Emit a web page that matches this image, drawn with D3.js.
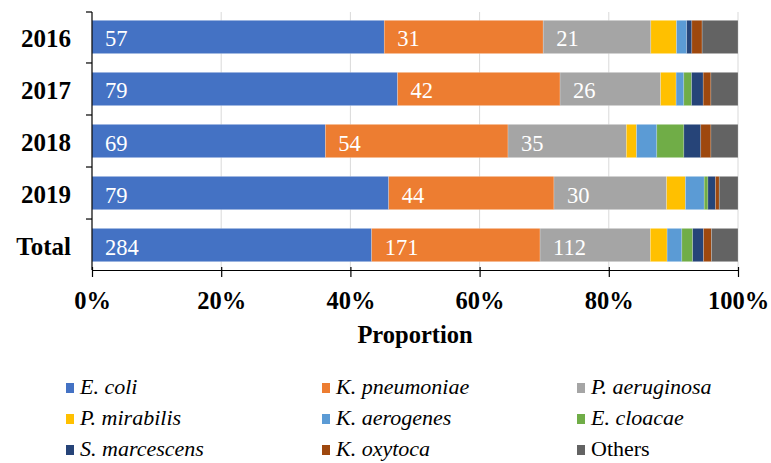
<!DOCTYPE html>
<html><head><meta charset="utf-8">
<script src="https://cdn.jsdelivr.net/npm/d3@7"></script>
<style>body{margin:0;background:#fff}svg{display:block}</style>
</head><body>
<svg id="c" width="771" height="463"></svg>
<script>
const categories = ["2016", "2017", "2018", "2019", "Total"];
const seriesNames = ["E. coli", "K. pneumoniae", "P. aeruginosa", "P. mirabilis", "K. aerogenes", "E. cloacae", "S. marcescens", "K. oxytoca", "Others"];
const italicSeries = [true, true, true, true, true, true, true, true, false];
const colors = ["#4472C4", "#ED7D31", "#A5A5A5", "#FFC000", "#5B9BD5", "#70AD47", "#264478", "#9E480E", "#636363"];
const eColi        = [57, 79, 69, 79, 284];
const kPneumoniae  = [31, 42, 54, 44, 171];
const pAeruginosa  = [21, 26, 35, 30, 112];
const pMirabilis   = [5, 4, 3, 5, 17];
const kAerogenes   = [2, 2, 6, 5, 15];
const eCloacae     = [0, 2, 8, 1, 11];
const sMarcescens  = [1, 3, 5, 2, 11];
const kOxytoca     = [2, 2, 3, 1, 8];
const others       = [7, 7, 8, 5, 27];
const labelledSeries = 3;
const xTicks = [0, 0.2, 0.4, 0.6, 0.8, 1];
const xTitle = "Proportion";

const seriesValues = [eColi, kPneumoniae, pAeruginosa, pMirabilis, kAerogenes, eCloacae, sMarcescens, kOxytoca, others];
const rows = categories.map((c, i) => {
  const r = {cat: c};
  seriesNames.forEach((s, j) => r[s] = seriesValues[j][i]);
  return r;
});
const stack = d3.stack().keys(seriesNames).offset(d3.stackOffsetExpand);
const layers = stack(rows);

const svg = d3.select("#c");
const x = d3.scaleLinear().domain([0, 1]).range([92, 738]);
const y = d3.scaleBand().domain(categories).range([12, 270]).paddingInner(0.36).paddingOuter(0.16);
const serif = "'Liberation Serif','Times New Roman',serif";

// gridlines
svg.append("g").selectAll("line").data(xTicks.slice(1)).join("line")
  .attr("x1", d => x(d)).attr("x2", d => x(d))
  .attr("y1", 12).attr("y2", 270)
  .attr("stroke", "#d9d9d9").attr("stroke-width", 1);

// bars
const g = svg.append("g");
layers.forEach((layer, j) => {
  g.append("g").attr("fill", colors[j]).selectAll("rect").data(layer).join("rect")
    .attr("x", d => x(d[0])).attr("width", d => Math.max(0, x(d[1]) - x(d[0])))
    .attr("y", d => y(d.data.cat)).attr("height", y.bandwidth())
    .attr("stroke", "#ffffff").attr("stroke-opacity", 0.35).attr("stroke-width", 0.6);
});
// labels
layers.slice(0, labelledSeries).forEach((layer, j) => {
  g.append("g").selectAll("text").data(layer).join("text")
    .attr("x", d => x(d[0]) + 13)
    .attr("y", d => y(d.data.cat) + y.bandwidth() / 2 + 9.5)
    .attr("fill", "#fff").attr("font-family", serif).attr("font-size", 22.5)
    .text(d => d.data[seriesNames[j]]);
});

// x axis
const xAxis = d3.axisBottom(x).tickValues(xTicks).tickFormat(d3.format(".0%")).tickSize(7).tickSizeOuter(0);
const xg = svg.append("g").attr("transform", "translate(0,270)").call(xAxis);
xg.select(".domain").attr("stroke", "#000").attr("stroke-width", 1.2);
xg.selectAll(".tick line").attr("stroke", "#000").attr("stroke-width", 1.2).attr("y1", -3);
xg.selectAll(".tick text").attr("font-family", serif).attr("font-weight", "bold")
  .attr("font-size", 24.5).attr("fill", "#000").attr("dy", "0").attr("y", 39);

// y axis
const yg = svg.append("g").attr("transform", "translate(92,0)");
yg.append("line").attr("x1", 0).attr("x2", 0).attr("y1", 12).attr("y2", 270).attr("stroke", "#000").attr("stroke-width", 1.2);
const bounds = categories.map((c, i) => i === 0 ? y.range()[0] : (y(categories[i - 1]) + y.bandwidth() + y(c)) / 2);
yg.selectAll("line.tk").data(bounds).join("line").attr("class", "tk")
  .attr("x1", -6).attr("x2", 0).attr("y1", d => d).attr("y2", d => d)
  .attr("stroke", "#000").attr("stroke-width", 1.2);
yg.selectAll("text").data(categories).join("text")
  .attr("x", -21).attr("y", d => y(d) + y.bandwidth() / 2 + 10)
  .attr("text-anchor", "end").attr("font-family", serif).attr("font-weight", "bold")
  .attr("font-size", 25).attr("fill", "#000").text(d => d);

// x title
svg.append("text").attr("x", x(0.5)).attr("y", 343).attr("text-anchor", "middle")
  .attr("font-family", serif).attr("font-weight", "bold").attr("font-size", 24.5).text(xTitle);

// legend
const colX = [66, 322, 577];
const rowY = [394, 425, 456];
const lg = svg.append("g");
seriesNames.forEach((s, i) => {
  const cx = colX[i % 3], cy = rowY[Math.floor(i / 3)];
  lg.append("rect").attr("x", cx).attr("y", cy - 11).attr("width", 8).attr("height", 10).attr("fill", colors[i]);
  lg.append("text").attr("x", cx + 14).attr("y", cy)
    .attr("font-family", serif).attr("font-style", italicSeries[i] ? "italic" : "normal")
    .attr("font-size", 22).attr("fill", "#000").text(s);
});
</script>
</body></html>
